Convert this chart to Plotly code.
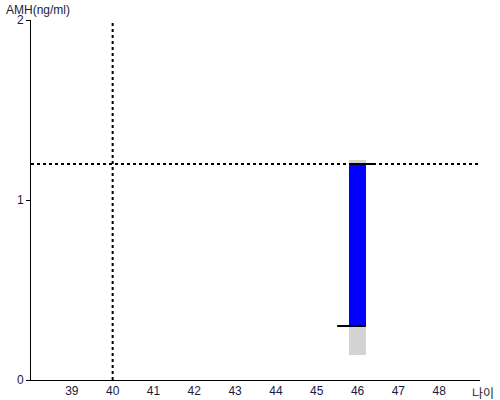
import plotly.graph_objects as go

# candle data for age 46
ages = [46]
amh_open = [0.3]
amh_close = [1.2]
amh_high = [1.22]
amh_low = [0.14]

ref_age = 40
ref_amh = 1.2

x_ticks = [39, 40, 41, 42, 43, 44, 45, 46, 47, 48]
y_ticks = [0, 1, 2]

bar_w = 0.4
FONT = "Liberation Sans, Arial, sans-serif"

fig = go.Figure()

# high-low range in light gray
fig.add_trace(go.Bar(
    x=ages, y=[h - l for h, l in zip(amh_high, amh_low)], base=amh_low,
    width=bar_w, marker=dict(color="#d3d3d3", line=dict(width=0)),
    hoverinfo="skip", showlegend=False))

# open-close body in blue
fig.add_trace(go.Bar(
    x=ages, y=[c - o for o, c in zip(amh_open, amh_close)], base=amh_open,
    width=bar_w, marker=dict(color="#0000ff", line=dict(width=0)),
    showlegend=False))

# open tick (left) and close tick (right)
for a, o, c in zip(ages, amh_open, amh_close):
    fig.add_trace(go.Scatter(x=[a - 0.5, a + bar_w / 2], y=[o, o], mode="lines",
                             line=dict(color="black", width=2), showlegend=False))
    fig.add_trace(go.Scatter(x=[a - bar_w / 2, a + 0.45], y=[c, c], mode="lines",
                             line=dict(color="black", width=2), showlegend=False))

fig.add_hline(y=ref_amh, line=dict(color="black", width=2, dash="dot"))
fig.add_vline(x=ref_age, line=dict(color="black", width=2, dash="dot"))

fig.update_layout(
    width=500, height=400,
    margin=dict(l=31, r=20, t=20, b=20, autoexpand=False),
    paper_bgcolor="white", plot_bgcolor="white",
    barmode="overlay", bargap=0,
    font=dict(family=FONT, size=12, color="#222"),
    xaxis=dict(range=[38, 49], tickvals=x_ticks, showgrid=False, zeroline=False,
               showline=True, linecolor="black", linewidth=1, ticks="",
               automargin=False, tickfont=dict(size=12, color="#1a1a40")),
    yaxis=dict(range=[0, 2], tickvals=y_ticks, showgrid=False, zeroline=False,
               showline=True, linecolor="black", linewidth=1, ticks="outside",
               ticklen=4, tickcolor="black", automargin=False,
               tickfont=dict(size=12, color="#1a1a40")),
    annotations=[
        dict(text="AMH(ng/ml)", xref="paper", yref="paper", x=0, y=1, xshift=-27,
             yshift=10, xanchor="left", yanchor="middle", showarrow=False,
             font=dict(family=FONT, size=12, color="#1a1a40")),
        dict(text="나이", xref="paper", yref="paper", x=1, y=0, xshift=16,
             yshift=-12, xanchor="right", yanchor="middle", showarrow=False,
             font=dict(family="Noto Sans CJK KR", size=12, color="#222")),
    ],
)

# drop the default body margin so the figure fills the window
fig.write_html("out.html", config={"displayModeBar": False},
               post_script="document.body.style.margin='0';")
